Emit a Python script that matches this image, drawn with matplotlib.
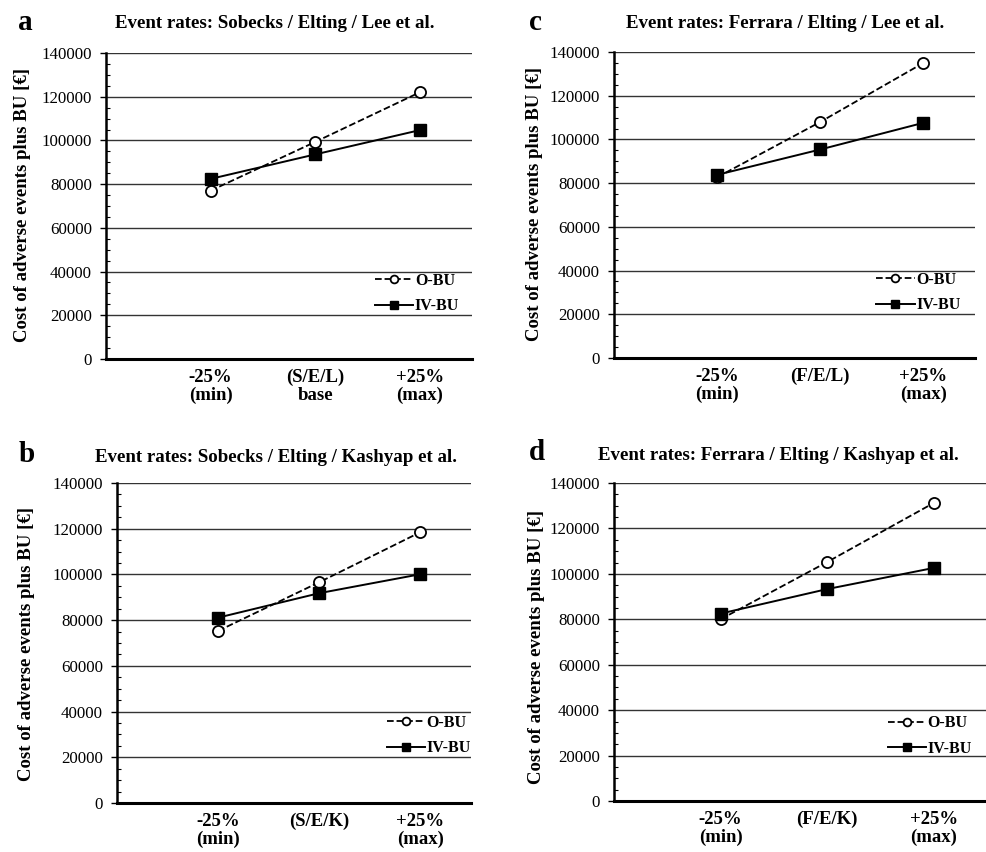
import matplotlib.pyplot as plt
from matplotlib.ticker import MultipleLocator

# values (EUR)
a_obu = [77000, 99300, 122000]
a_ivbu = [82400, 93600, 104700]
b_obu = [75300, 96600, 118500]
b_ivbu = [81100, 91800, 100100]
c_obu = [82700, 108000, 135000]
c_ivbu = [83800, 95400, 107600]
d_obu = [80000, 105200, 131200]
d_ivbu = [82500, 93300, 102600]

a_ticks = ["-25%\n(min)", "(S/E/L)\nbase", "+25%\n(max)"]
b_ticks = ["-25%\n(min)", "(S/E/K)", "+25%\n(max)"]
c_ticks = ["-25%\n(min)", "(F/E/L)", "+25%\n(max)"]
d_ticks = ["-25%\n(min)", "(F/E/K)", "+25%\n(max)"]

titles = {
    "a": "Event rates: Sobecks / Elting / Lee et al.",
    "b": "Event rates: Sobecks / Elting / Kashyap et al.",
    "c": "Event rates: Ferrara / Elting / Lee et al.",
    "d": "Event rates: Ferrara / Elting / Kashyap et al.",
}

YLABEL = "Cost of adverse events plus BU [\u20ac]"

plt.rcParams["font.family"] = ["Liberation Serif", "DejaVu Serif"]
plt.rcParams["font.size"] = 11

W, H = 987, 852
fig = plt.figure(figsize=(W / 100, H / 100), dpi=100)


def px(x, y):
    return x / W, 1 - y / H


# panel: rect (left, top, right, bottom in px), data, labels, legend anchor,
# title/letter/ylabel positions in px
PANELS = [
    ("a", (106, 53, 472, 359), a_obu, a_ivbu, a_ticks, (0.965, 0.214),
     (275, 23), (25, 23), (23, 205)),
    ("c", (614, 52, 975, 358), c_obu, c_ivbu, c_ticks, (0.96, 0.214),
     (785, 23), (535, 22), (535, 204)),
    ("b", (117, 483, 471, 803), b_obu, b_ivbu, b_ticks, (1.0, 0.211),
     (276, 457), (27, 455), (27, 644)),
    ("d", (614, 483, 987, 801), d_obu, d_ivbu, d_ticks, (0.96, 0.204),
     (778, 455), (537, 453), (537, 647)),
]

for letter, (l, t, r, b), obu, ivbu, ticks, leg_xy, tpos, lpos, ypos in PANELS:
    ax = fig.add_axes([l / W, 1 - b / H, (r - l) / W, (b - t) / H])
    x = list(range(len(obu)))
    ax.plot(x, obu, linestyle="--", color="black", linewidth=1.3,
            marker="o", markersize=8, markerfacecolor="white",
            markeredgecolor="black", markeredgewidth=1.3, label="O-BU", zorder=3)
    ax.plot(x, ivbu, linestyle="-", color="black", linewidth=1.4,
            marker="s", markersize=9, markerfacecolor="black",
            markeredgecolor="black", label="IV-BU", zorder=4)

    ax.set_xlim(-1, 2.5)
    ax.set_ylim(0, 140000)
    ax.yaxis.set_major_locator(MultipleLocator(20000))
    ax.yaxis.set_minor_locator(MultipleLocator(5000))
    ax.grid(axis="y", which="major", color="#333333", linewidth=1.0, zorder=0)
    ax.set_axisbelow(True)

    ax.set_xticks(x)
    ax.set_xticklabels(ticks, fontweight="bold", fontsize=13.5, linespacing=1.1)
    ax.tick_params(axis="x", length=0, pad=7)
    ax.tick_params(axis="y", which="major", direction="out", length=4,
                   width=1.0, labelsize=12.2, pad=6)
    ax.tick_params(axis="y", which="minor", direction="in", length=3, width=0.8)

    for s in ("top", "right"):
        ax.spines[s].set_visible(False)
    ax.spines["left"].set_linewidth(1.8)
    ax.spines["bottom"].set_linewidth(2.2)

    ax.legend(loc="center right", bbox_to_anchor=leg_xy, frameon=False,
              prop={"weight": "bold", "size": 11.5}, handlelength=2.4,
              handletextpad=0.1, labelspacing=0.6, borderpad=0,
              borderaxespad=0, markerscale=0.7)

    fig.text(*px(*tpos), titles[letter], ha="center", va="center",
             fontweight="bold", fontsize=13.6)
    fig.text(*px(*lpos), letter, ha="center", va="center",
             fontweight="bold", fontsize=21)
    fig.text(*px(*ypos), YLABEL, ha="center", va="center", rotation=90,
             fontweight="bold", fontsize=13.5)

fig.savefig("out.png", dpi=100)
